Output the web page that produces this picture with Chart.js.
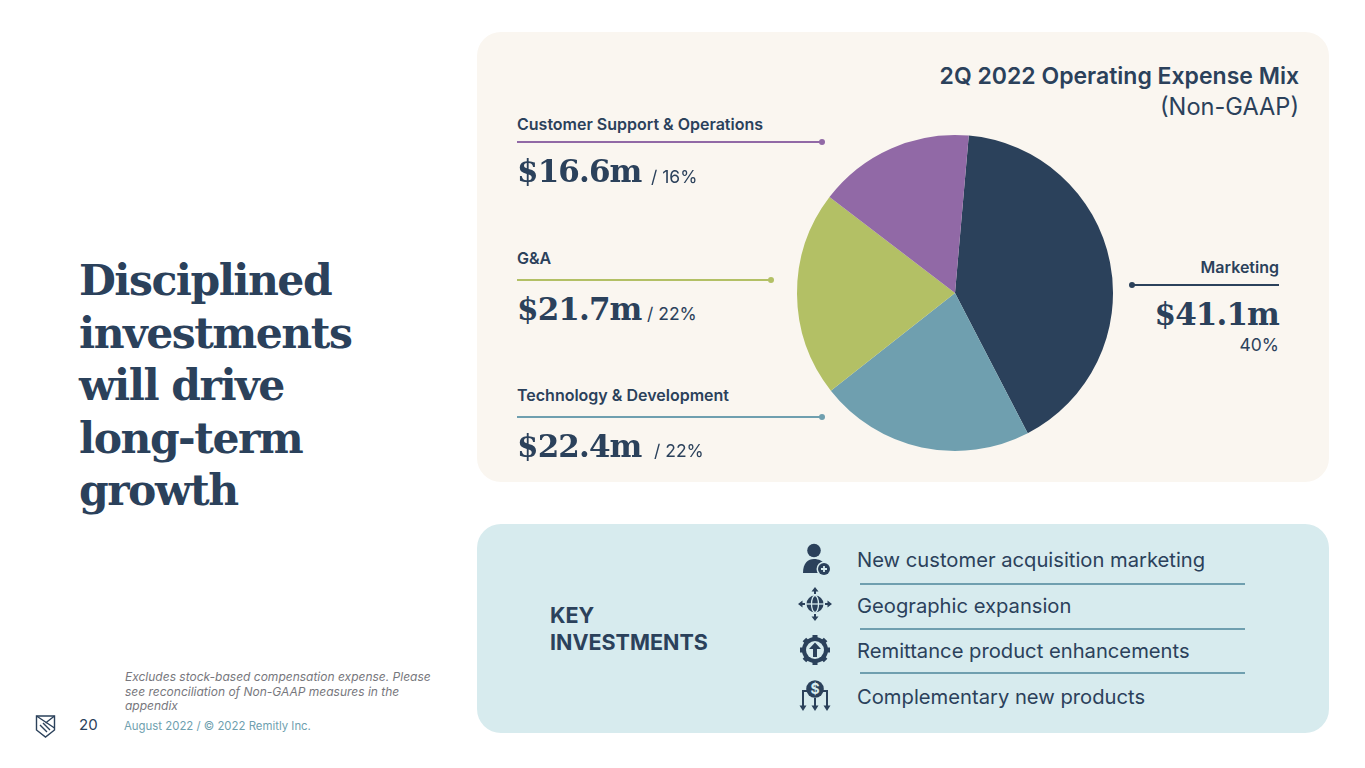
<!DOCTYPE html>
<html>
<head>
<meta charset="utf-8">
<title>2Q 2022 Operating Expense Mix</title>
<script src="https://cdn.jsdelivr.net/npm/chart.js@4/dist/chart.umd.min.js"></script>
<style>
html, body { margin: 0; padding: 0; background: #fff; }
body { width: 1365px; height: 768px; position: relative; overflow: hidden; font-family: Inter, "Noto Sans", sans-serif; color: #2b415b; }
.abs { position: absolute; white-space: nowrap; }
.panel { position: absolute; border-radius: 24px; }
.headline { left: 79px; top: 254px; font: bold 42.5px/52.5px "DejaVu Serif", serif; letter-spacing: -1.5px; white-space: pre-line; }
.cat { font-size: 16px; font-weight: 600; line-height: 20px; }
.amount { font: bold 31px/38px "DejaVu Serif", serif; letter-spacing: -0.9px; }
.share { font-size: 17.5px; line-height: 24px; font-weight: 400; }
.line { position: absolute; height: 2px; }
.dot { position: absolute; width: 6px; height: 6px; border-radius: 50%; }
.inv { font-size: 20.2px; line-height: 26px; }
.rule { position: absolute; left: 860px; width: 385px; height: 1.5px; background: #6f9faf; }
svg { position: absolute; }
</style>
</head>
<body>
<div class="panel" style="left:477px;top:32px;width:852px;height:450px;background:#faf6f0"></div>
<div class="panel" style="left:477px;top:524px;width:852px;height:209px;background:#d7ebee"></div>

<div class="abs headline">Disciplined
investments
will drive
long-term
growth</div>

<div class="abs" style="right:66px;top:60px;font-size:23px;font-weight:600;line-height:32px">2Q 2022 Operating Expense Mix</div>
<div class="abs" style="right:66px;top:91px;font-size:23.6px;line-height:32px">(Non-GAAP)</div>

<canvas id="pie" width="340" height="340" style="position:absolute;left:785px;top:123px;width:340px;height:340px"></canvas>
<div id="labels"></div>

<div class="abs" style="left:550px;top:602px;font-size:21.5px;font-weight:700;line-height:27px">KEY<br>INVESTMENTS</div>
<div id="investments"></div>
<div class="rule" style="top:583px"></div>
<div class="rule" style="top:628px"></div>
<div class="rule" style="top:672px"></div>

<!-- icons -->
<svg style="left:800px;top:543px" width="32" height="34" viewBox="0 0 32 34" fill="#2b415b">
  <circle cx="14" cy="7.500" r="6.800"/>
  <path d="M3 30c0-10 5-14 11-14 5 0 9 2 11 6v8z"/>
  <circle cx="24" cy="26" r="7.500" fill="#d7ebee"/>
  <circle cx="24" cy="26" r="6"/>
  <path d="M21 26h6M24 23v6" stroke="#d7ebee" stroke-width="1.800"/>
</svg>
<svg style="left:797px;top:586px" width="36" height="36" viewBox="0 0 36 36" fill="none" stroke="#2b415b">
  <circle cx="18" cy="18" r="8.500" fill="#2b415b" stroke="none"/>
  <ellipse cx="18" cy="18" rx="3.500" ry="8.500" stroke="#d7ebee" stroke-width="1.300"/>
  <path d="M9 18h18" stroke="#d7ebee" stroke-width="1.300"/>
  <path d="M18 8V3M18 28v5M8 18H3M28 18h5" stroke-width="2"/>
  <path d="M14.500 5.500 18 1l3.500 4.500zM14.500 30.500 18 35l3.500-4.500zM5.500 14.500 1 18l4.500 3.500zM30.500 14.500 35 18l-4.500 3.500z" fill="#2b415b" stroke="none"/>
</svg>
<svg style="left:799px;top:634px" width="32" height="32" viewBox="0 0 32 32">
  <circle cx="16" cy="16" r="13" fill="#2b415b"/>
  <path d="M16 1v30M1 16h30M5.400 5.400l21.200 21.200M26.600 5.400 5.400 26.600" stroke="#2b415b" stroke-width="5"/>
  <circle cx="16" cy="16" r="9" fill="#d7ebee"/>
  <path d="M16 8.500 10 15h4v8h4v-8h4z" fill="#2b415b"/>
</svg>
<svg style="left:799px;top:680px" width="32" height="32" viewBox="0 0 32 32" fill="none" stroke="#2b415b" stroke-width="2">
  <path d="M9 11H4v15M23 11h5v15M16 18v8"/>
  <path d="M0.500 25.500h7L4 31zM12.500 25.500h7L16 31zM24.500 25.500h7L28 31z" fill="#2b415b" stroke="none"/>
  <circle cx="16" cy="9" r="8.800" fill="#2b415b" stroke="none"/>
  <text x="16" y="14" text-anchor="middle" font-size="14" font-weight="700" fill="#d7ebee" stroke="none" font-family="Inter">$</text>
</svg>

<div class="abs" style="left:125px;top:670px;font-size:12px;line-height:14.500px;font-style:italic;color:#77777d;font-family:Inter,sans-serif">Excludes stock-based compensation expense. Please<br>see reconciliation of Non-GAAP measures in the<br>appendix</div>
<svg style="left:35px;top:714px" width="21" height="25" viewBox="0 0 21 25" fill="none" stroke="#2b415b" stroke-width="1.400">
  <path d="M1.500 2h18v14l-9 7-9-7z"/>
  <path d="M1.500 2l18 12M19.500 2l-9 7M5 11l7 7M8 9l7 7"/>
</svg>
<div class="abs" style="left:79px;top:715px;font-size:15px;line-height:20px">20</div>
<div class="abs" style="left:124px;top:717px;font-size:11.400px;line-height:18px;color:#6f9faf">August 2022 / © 2022 Remitly Inc.</div>

<script>
var categories = ['Marketing', 'Technology & Development', 'G&A', 'Customer Support & Operations'];
var sliceValues = [41, 22, 21, 16];
var shareLabels = ['40%', '22%', '22%', '16%'];
var amountLabels = ['$41.1m', '$22.4m', '$21.7m', '$16.6m'];
var sliceColors = ['#2b415b', '#6f9faf', '#b3c065', '#9169a6'];
var investmentItems = ['New customer acquisition marketing', 'Geographic expansion', 'Remittance product enhancements', 'Complementary new products'];

new Chart(document.getElementById('pie').getContext('2d'), {
    type: 'pie',
    data: {
        labels: categories,
        datasets: [{
            data: sliceValues,
            backgroundColor: sliceColors,
            borderWidth: 0
        }]
    },
    options: {
        responsive: false,
        animation: false,
        rotation: 5,
        radius: 158,
        layout: { padding: 0 },
        plugins: { legend: { display: false }, tooltip: { enabled: false } }
    }
});

// callouts round the pie, same order as categories
var labelBox = document.getElementById('labels');
function add(cls, css, text) {
    var d = document.createElement('div');
    d.className = cls;
    d.style.cssText = css;
    if (text) d.textContent = text;
    labelBox.appendChild(d);
}
var leftSpots = {
    1: { top: 385, line: 416, amount: 427, share: 439, lineEnd: 822, shareLeft: 654 },
    2: { top: 248, line: 279, amount: 290, share: 302, lineEnd: 771, shareLeft: 647 },
    3: { top: 114, line: 141, amount: 152, share: 165, lineEnd: 822, shareLeft: 651 }
};
[1, 2, 3].forEach(function (i) {
    var s = leftSpots[i];
    add('abs cat', 'left:517px;top:' + s.top + 'px', categories[i]);
    add('line', 'left:517px;width:' + (s.lineEnd - 517) + 'px;top:' + s.line + 'px;background:' + sliceColors[i]);
    add('dot', 'left:' + (s.lineEnd - 3) + 'px;top:' + (s.line - 2) + 'px;background:' + sliceColors[i]);
    add('abs amount', 'left:517px;top:' + s.amount + 'px', amountLabels[i]);
    add('abs share', 'left:' + s.shareLeft + 'px;top:' + s.share + 'px', '/ ' + shareLabels[i]);
});
add('abs cat', 'right:86px;top:257px', categories[0]);
add('line', 'left:1132px;width:147px;top:284px;background:' + sliceColors[0]);
add('dot', 'left:1129px;top:282px;background:' + sliceColors[0]);
add('abs amount', 'right:86px;top:295px', amountLabels[0]);
add('abs share', 'right:86px;top:333px', shareLabels[0]);

var invBox = document.getElementById('investments');
var invTops = [547, 593, 638, 684];
investmentItems.forEach(function (t, i) {
    var d = document.createElement('div');
    d.className = 'abs inv';
    d.style.cssText = 'left:857px;top:' + invTops[i] + 'px';
    d.textContent = t;
    invBox.appendChild(d);
});
</script>
</body>
</html>
